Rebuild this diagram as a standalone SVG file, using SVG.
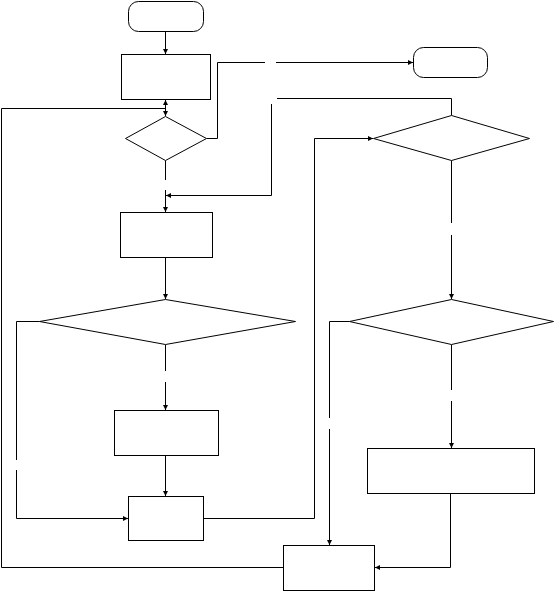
<svg xmlns="http://www.w3.org/2000/svg" width="554" height="591" viewBox="0 0 554 591">
<style>
.n{fill:#fff;stroke:#000;stroke-width:1}
.c{fill:none;stroke:#000;stroke-width:1}
</style>
<defs>
<marker id="a" markerUnits="userSpaceOnUse" markerWidth="6" markerHeight="6" refX="5" refY="3" orient="auto">
<path d="M0,0.5 L5,3 L0,5.5 z" fill="#000"/>
</marker>
</defs>
<rect width="554" height="591" fill="#fff"/>
<g id="connectors">
<path class="c" d="M165.5,31.5 V54" marker-end="url(#a)"/>
<path class="c" d="M165.5,99.5 V116" marker-end="url(#a)"/>
<path class="c" d="M283.5,567.5 H1.5 V108.5 H165.5 V100" marker-end="url(#a)"/>
<path class="c" d="M206.5,138.5 H217.5 V62.5 H265"/>
<path class="c" d="M276,62.5 H413" marker-end="url(#a)"/>
<path class="c" d="M165.5,160.5 V180"/>
<path class="c" d="M165.5,190 V212" marker-end="url(#a)"/>
<path class="c" d="M451.5,115.5 V98.5 H277"/>
<path class="c" d="M271.5,104 V195.5 H166" marker-end="url(#a)"/>
<path class="c" d="M165.5,257.5 V299" marker-end="url(#a)"/>
<path class="c" d="M165.5,344.5 V371"/>
<path class="c" d="M165.5,382 V410" marker-end="url(#a)"/>
<path class="c" d="M39.5,321.5 H16.5 V460"/>
<path class="c" d="M16.5,470 V518.5 H128" marker-end="url(#a)"/>
<path class="c" d="M165.5,455.5 V496" marker-end="url(#a)"/>
<path class="c" d="M204,518.5 H314.5 V138.5 H373" marker-end="url(#a)"/>
<path class="c" d="M451.5,160.5 V223"/>
<path class="c" d="M451.5,235 V299" marker-end="url(#a)"/>
<path class="c" d="M451.5,344.5 V390"/>
<path class="c" d="M451.5,401 V448" marker-end="url(#a)"/>
<path class="c" d="M349.5,321.5 H329.5 V418"/>
<path class="c" d="M329.5,429 V545" marker-end="url(#a)"/>
<path class="c" d="M450.5,493.5 V567.5 H375" marker-end="url(#a)"/>
</g>
<g id="start"><rect class="n" x="128.5" y="1.5" width="75" height="30" rx="10"/></g>
<g id="box1"><rect class="n" x="121.5" y="54.5" width="89" height="45"/></g>
<g id="decision1"><polygon class="n" points="165.5,116.5 206.5,138.5 165.5,160.5 125.5,138.5"/></g>
<g id="end"><rect class="n" x="413.5" y="47.5" width="74" height="30" rx="10"/></g>
<g id="decision2"><polygon class="n" points="451.5,115.5 529.5,138.5 451.5,160.5 373.5,138.5"/></g>
<g id="box3"><rect class="n" x="120.5" y="212.5" width="92" height="45"/></g>
<g id="decision3"><polygon class="n" points="165.5,299.5 295.5,321.5 165.5,344.5 39.5,321.5"/></g>
<g id="decision4"><polygon class="n" points="451.5,299.5 553.5,321.5 451.5,344.5 349.5,321.5"/></g>
<g id="box4"><rect class="n" x="114.5" y="410.5" width="104" height="45"/></g>
<g id="box5"><rect class="n" x="128.5" y="496.5" width="75" height="44"/></g>
<g id="box7"><rect class="n" x="367.5" y="448.5" width="167" height="45"/></g>
<g id="box6"><rect class="n" x="283.5" y="545.5" width="91" height="45"/></g>
</svg>
